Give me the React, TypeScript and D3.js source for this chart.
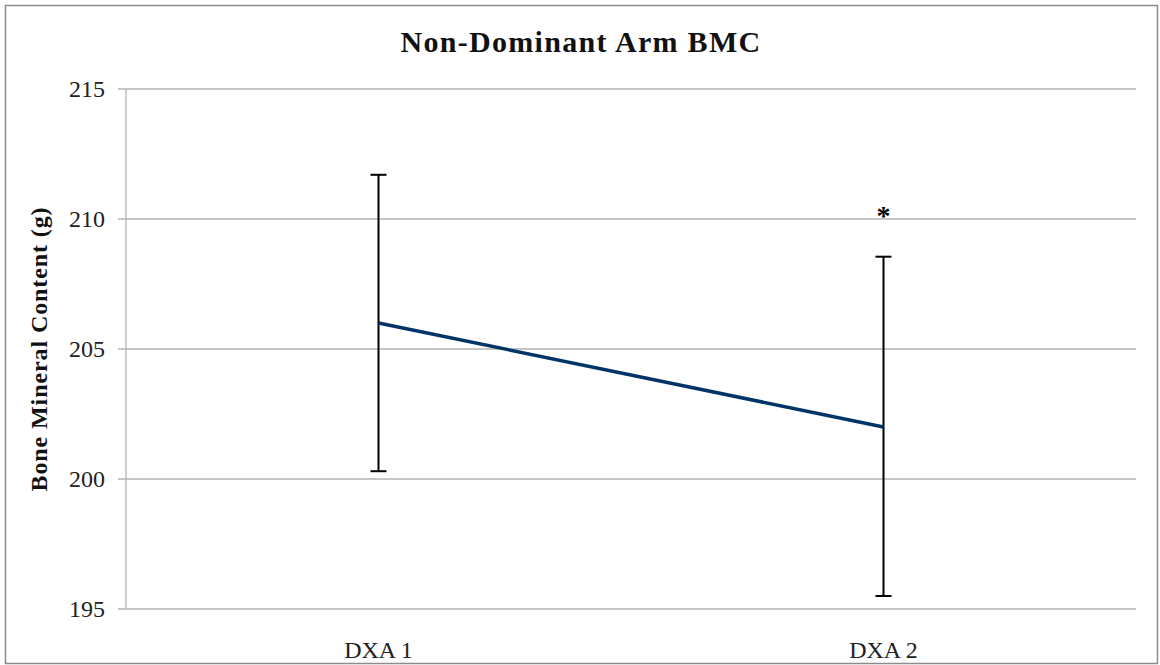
import React, { useEffect, useRef } from "react";
import * as d3 from "d3";

const categories = ["DXA 1", "DXA 2"];
const means = [206.0, 202.0];
const errUpper = [211.7, 208.55];
const errLower = [200.3, 195.5];
const yTicks = [195, 200, 205, 210, 215];
const title = "Non-Dominant Arm BMC";
const yLabel = "Bone Mineral Content (g)";
const sigMarks = ["", "*"];

const W = 1160;
const H = 665;
const M = { left: 126, right: 1136, top: 89, bottom: 609 };
const FONT = "'Liberation Serif', 'DejaVu Serif', serif";

export default function App() {
  const ref = useRef<SVGSVGElement | null>(null);

  useEffect(() => {
    const svg = d3.select(ref.current);
    svg.selectAll("*").remove();

    const x = d3.scaleBand<string>().domain(categories).range([M.left, M.right]);
    const y = d3.scaleLinear().domain([195, 215]).range([M.bottom, M.top]);
    const cx = (c: string) => (x(c) as number) + x.bandwidth() / 2;

    svg.append("rect").attr("x", 0).attr("y", 0).attr("width", W).attr("height", H).attr("fill", "#fff");
    svg.append("rect").attr("x", 5.5).attr("y", 5.5).attr("width", 1152).attr("height", 658)
      .attr("fill", "none").attr("stroke", "#8c8c8c").attr("stroke-width", 1.5);

    // gridlines
    svg.append("g").selectAll("line").data(yTicks).join("line")
      .attr("x1", M.left - 8).attr("x2", M.right)
      .attr("y1", (d) => y(d)).attr("y2", (d) => y(d))
      .attr("stroke", "#b3b3b3").attr("stroke-width", 1.3);

    // y axis line
    svg.append("line").attr("x1", M.left).attr("x2", M.left).attr("y1", M.top).attr("y2", M.bottom)
      .attr("stroke", "#b3b3b3").attr("stroke-width", 1.3);

    // tick labels
    svg.append("g").selectAll("text").data(yTicks).join("text")
      .attr("x", 105).attr("y", (d) => y(d)).attr("dy", "0.35em")
      .attr("text-anchor", "end").attr("font-family", FONT).attr("font-size", 24).attr("fill", "#222")
      .text((d) => String(d));

    svg.append("g").selectAll("text").data(categories).join("text")
      .attr("x", (d) => cx(d)).attr("y", 658)
      .attr("text-anchor", "middle").attr("font-family", FONT).attr("font-size", 24).attr("fill", "#222")
      .text((d) => d);

    // title
    svg.append("text").attr("x", 581).attr("y", 52).attr("text-anchor", "middle")
      .attr("font-family", FONT).attr("font-weight", "bold").attr("font-size", 30)
      .attr("letter-spacing", 1.3).attr("fill", "#111")
      .text(title);

    // y label
    svg.append("text").attr("transform", `translate(47,${(M.top + M.bottom) / 2}) rotate(-90)`)
      .attr("text-anchor", "middle").attr("font-family", FONT).attr("font-weight", "bold")
      .attr("font-size", 24).attr("letter-spacing", 0.9).attr("fill", "#111").text(yLabel);

    // error bars
    const eb = svg.append("g").attr("stroke", "#000").attr("stroke-width", 2);
    categories.forEach((c, i) => {
      const px = cx(c);
      eb.append("line").attr("x1", px).attr("x2", px).attr("y1", y(errUpper[i])).attr("y2", y(errLower[i]));
      eb.append("line").attr("x1", px - 8).attr("x2", px + 8).attr("y1", y(errUpper[i])).attr("y2", y(errUpper[i]));
      eb.append("line").attr("x1", px - 8).attr("x2", px + 8).attr("y1", y(errLower[i])).attr("y2", y(errLower[i]));
    });

    // line
    const line = d3.line<number>().x((_, i) => cx(categories[i])).y((d) => y(d));
    svg.append("path").datum(means).attr("d", line).attr("fill", "none")
      .attr("stroke", "#003366").attr("stroke-width", 3.5);

    // significance marks
    svg.append("g").selectAll("text").data(sigMarks).join("text")
      .attr("x", (_, i) => cx(categories[i])).attr("y", 225)
      .attr("text-anchor", "middle").attr("font-family", FONT).attr("font-weight", "bold")
      .attr("font-size", 28).attr("fill", "#000").text((d) => d);
  }, []);

  return (
    <svg ref={ref} width={W} height={H} style={{ position: "absolute", left: 0, top: 0 }} />
  );
}
